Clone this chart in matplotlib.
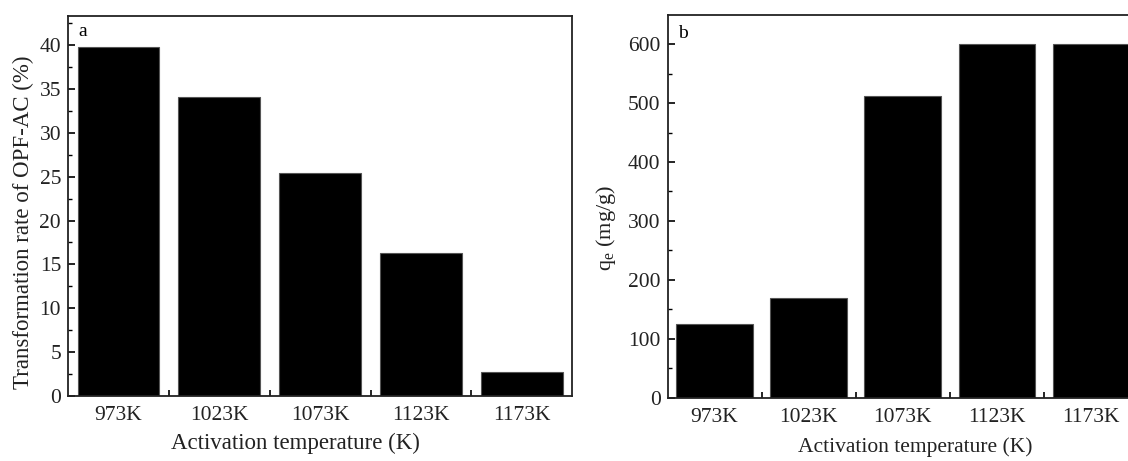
import matplotlib
matplotlib.use("Agg")
import matplotlib.pyplot as plt
import numpy as np
from matplotlib.ticker import MultipleLocator, FixedLocator

plt.rcParams["font.family"] = ["Liberation Serif", "DejaVu Serif"]

# ---- data ----
temps = ["973K", "1023K", "1073K", "1123K", "1173K"]
transform_rate = [39.8, 34.1, 25.4, 16.3, 2.7]      # panel a, %
qe_values = [125, 170, 512, 600, 601]                # panel b, mg/g

x = np.arange(1, len(temps) + 1)

fig = plt.figure(figsize=(11.28, 4.61), dpi=100)
ax_a = fig.add_axes([0.0603, 0.141, 0.447, 0.824])
ax_b = fig.add_axes([0.5918, 0.137, 0.4167, 0.830])


def style_axis(ax, minor_step, fs):
    for sp in ax.spines.values():
        sp.set_linewidth(1.3)
        sp.set_color("#222222")
    ax.set_xlim(0.5, 5.5)
    ax.set_xticks(x)
    ax.set_xticklabels(temps)
    ax.xaxis.set_minor_locator(FixedLocator(x[:-1] + 0.5))
    ax.yaxis.set_minor_locator(MultipleLocator(minor_step))
    ax.tick_params(axis="x", which="major", length=0, labelsize=15.5, pad=7,
                   labelcolor="#222222")
    ax.tick_params(axis="x", which="minor", direction="in", length=4, width=1.2)
    ax.tick_params(axis="y", which="major", direction="in", length=5, width=1.2,
                   labelsize=15.5, right=False, pad=5, labelcolor="#222222")
    ax.tick_params(axis="y", which="minor", direction="in", length=3, width=1.0)
    ax.set_xlabel("Activation temperature (K)", fontsize=fs, color="#222222")
    ax.xaxis.label.set_va("center")


ax_a.bar(x, transform_rate, width=0.81, color="black", edgecolor="#555555", linewidth=0.8)
ax_a.set_ylim(0, 43.3)
ax_a.set_yticks(np.arange(0, 41, 5))
style_axis(ax_a, 2.5, 16.5)
ax_a.set_ylabel("Transformation rate of OPF-AC (%)", fontsize=16.5, color="#222222")
ax_a.yaxis.label.set_va("center")
ax_a.yaxis.set_label_coords(-45 / 504, 0.458)
ax_a.xaxis.set_label_coords(0.452, -47 / 380)
ax_a.text(0.6, 41.6, "a", fontsize=14, ha="left", va="center")

ax_b.bar(x, qe_values, width=0.81, color="black", edgecolor="#555555", linewidth=0.8)
ax_b.set_ylim(0, 649)
ax_b.set_yticks(np.arange(0, 601, 100))
style_axis(ax_b, 50, 15.5)
ax_b.set_ylabel(r"q$_\mathregular{e}$ (mg/g)", fontsize=16, color="#222222")
ax_b.yaxis.label.set_va("center")
ax_b.yaxis.set_label_coords(-62 / 470, 0.444)
ax_b.xaxis.set_label_coords(0.527, -49 / 383)
ax_b.text(0.61, 618, "b", fontsize=14, ha="left", va="center")

fig.savefig("out.png", dpi=100)
